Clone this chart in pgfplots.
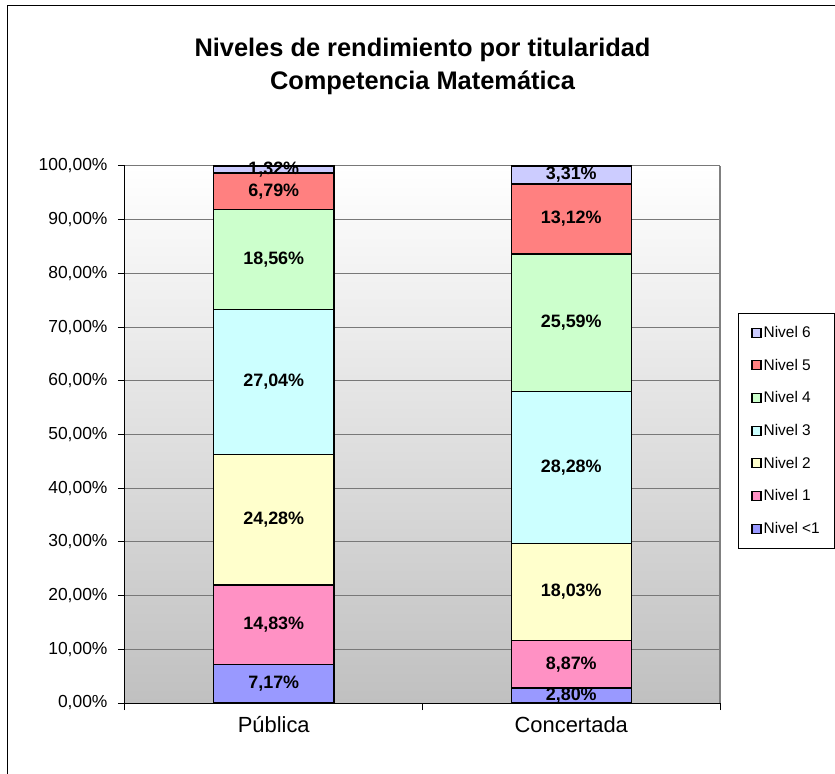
\documentclass[border=0pt]{standalone}
\usepackage{pgfplots}
\pgfplotsset{compat=1.18}
\usepackage{pgfplotstable}
\usepackage{fontspec}
\setmainfont{Liberation Sans}
\definecolor{n0}{RGB}{153,153,255}
\definecolor{n1}{RGB}{255,145,196}
\definecolor{n2}{RGB}{255,255,204}
\definecolor{n3}{RGB}{204,255,255}
\definecolor{n4}{RGB}{204,255,204}
\definecolor{n5}{RGB}{255,128,128}
\definecolor{n6}{RGB}{204,204,255}
\definecolor{bggray}{RGB}{192,192,192}
\definecolor{gridgray}{RGB}{120,120,120}

% shares of each level (%)
\pgfplotstableread{
x n0 n1 n2 n3 n4 n5 n6
0 7.17 14.83 24.28 27.04 18.56 6.79 1.32
1 2.80 8.87 18.03 28.28 25.59 13.12 3.31
}\datatable

% label positions (middle of each segment) and values
\pgfplotstableread{
x y v
0 3.585 7.17
0 14.585 14.83
0 34.14 24.28
0 59.80 27.04
0 82.60 18.56
0 95.275 6.79
0 99.33 1.32
1 1.40 2.80
1 7.235 8.87
1 20.685 18.03
1 43.84 28.28
1 70.775 25.59
1 90.13 13.12
1 98.345 3.31
}\labeltable

\begin{document}
\begin{tikzpicture}
\useasboundingbox (-125bp,-71bp) rectangle (710bp,703bp);
\draw[line width=1bp] (-117bp,-200bp) -- (-117bp,697bp) -- (900bp,697bp);
\begin{axis}[
  at={(0,0)}, anchor=south west, scale only axis,
  width=595bp, height=537bp,
  xmin=-0.5, xmax=1.5, ymin=0, ymax=100,
  ybar stacked, bar width=120bp,
  axis x line*=bottom, axis y line*=left,
  axis line style={black, line width=1bp},
  axis background/.style={shade, top color=white, bottom color=bggray},
  xtick={0,1}, xticklabels={Pública,Concertada},
  minor xtick={-0.5,0.5,1.5},
  ytick={0,10,...,100},
  ymajorgrids, grid style={draw=gridgray, line width=1bp},
  tick align=outside, major tick length=7bp, minor tick length=7bp,
  tick style={black, line width=1bp},
  major x tick style={draw=none},
  /pgf/number format/assume math mode=true,
  yticklabel={\pgfmathprintnumber[fixed,fixed zerofill,precision=2,use comma]{\tick}\%},
  yticklabel style={font=\fontsize{17.5}{21}\selectfont, xshift=-7bp},
  xticklabel style={font=\fontsize{22}{26}\selectfont, yshift=-3bp},
  title={Niveles de rendimiento por titularidad\\Competencia Matemática},
  title style={at={(axis description cs:0.5,1)}, anchor=base, yshift=71bp, align=center,
    font=\bfseries\fontsize{25.5}{33}\selectfont},
  legend style={at={(axis description cs:1.0303,0.7263)}, anchor=north west,
    draw=black, line width=0.8bp, fill=white, font=\fontsize{15.5}{18}\selectfont,
    row sep=16bp, inner xsep=13bp, inner ysep=11bp, cells={anchor=west}},
  reverse legend,
  legend image code/.code={\draw[#1, draw=black, line width=1.2bp] (0bp,-4.5bp) rectangle (9bp,4.5bp);},
  after end axis/.code={\draw[gray, line width=2bp] (rel axis cs:1,0) -- (rel axis cs:1,1);},
]
\addplot[fill=n0, draw=black, line width=1.5bp] table[x=x,y=n0]{\datatable};
\addlegendentry{Nivel <1}
\addplot[fill=n1, draw=black, line width=1.5bp] table[x=x,y=n1]{\datatable};
\addlegendentry{Nivel 1}
\addplot[fill=n2, draw=black, line width=1.5bp] table[x=x,y=n2]{\datatable};
\addlegendentry{Nivel 2}
\addplot[fill=n3, draw=black, line width=1.5bp] table[x=x,y=n3]{\datatable};
\addlegendentry{Nivel 3}
\addplot[fill=n4, draw=black, line width=1.5bp] table[x=x,y=n4]{\datatable};
\addlegendentry{Nivel 4}
\addplot[fill=n5, draw=black, line width=1.5bp] table[x=x,y=n5]{\datatable};
\addlegendentry{Nivel 5}
\addplot[fill=n6, draw=black, line width=1.5bp] table[x=x,y=n6]{\datatable};
\addlegendentry{Nivel 6}
\end{axis}
\begin{axis}[
  at={(0,0)}, anchor=south west, scale only axis,
  width=595bp, height=537bp,
  xmin=-0.5, xmax=1.5, ymin=0, ymax=100,
  hide axis, clip=false,
  /pgf/number format/assume math mode=true,
]
\addplot[draw=none, mark=none,
  nodes near coords={\pgfmathprintnumber[fixed,fixed zerofill,precision=2,use comma]{\pgfplotspointmeta}\%},
  nodes near coords align={center},
  every node near coord/.append style={anchor=center, black, font=\bfseries\fontsize{18}{21}\selectfont},
  point meta=\thisrow{v}] table[x=x,y=y]{\labeltable};
\end{axis}
\end{tikzpicture}
\end{document}
